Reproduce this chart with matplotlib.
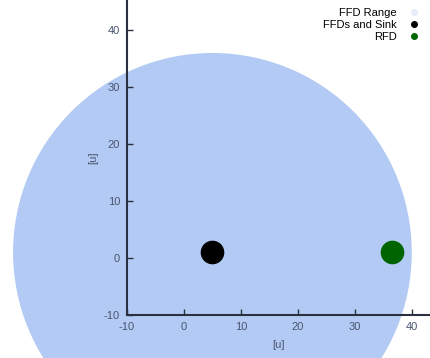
import matplotlib
matplotlib.use("Agg")
import matplotlib.pyplot as plt
from matplotlib.patches import Circle

plt.rcParams['font.family'] = ['Liberation Sans', 'DejaVu Sans']
plt.rcParams['axes.unicode_minus'] = False

# data
range_center = (5, 1)
range_radius = 35
ffd_x = [5]
ffd_y = [1]
rfd_x = [36.5]
rfd_y = [1]
xticks = [-10, 0, 10, 20, 30, 40]
yticks = [-10, 0, 10, 20, 30, 40]

range_color = "#b3cbf4"
tick_color = "#4a5570"

fig = plt.figure(figsize=(4.30, 3.58), dpi=100)
ax = fig.add_axes([0.2953, 0.12, 0.7047, 0.88])

circ = Circle(range_center, range_radius, facecolor=range_color, edgecolor="none",
              clip_on=False, zorder=1)
ax.add_patch(circ)

ax.plot(ffd_x, ffd_y, "o", color="black", markersize=16, zorder=3)
ax.plot(rfd_x, rfd_y, "o", color="#006400", markersize=16, zorder=3)

# legend proxies
ax.plot([], [], "o", color="#e4ebf9", markersize=4, label="FFD Range")
ax.plot([], [], "o", color="black", markersize=4, label="FFDs and Sink")
ax.plot([], [], "o", color="#006400", markersize=4, label="RFD")
leg = ax.legend(loc="upper right", markerfirst=False, frameon=False, fontsize=8,
                handlelength=1.0, handletextpad=1.0, labelspacing=0.2,
                borderaxespad=0.3, bbox_to_anchor=(0.99, 1.0))

ax.set_xlim(-10, 43.2)
ax.set_ylim(-10, 45.3)
ax.set_xticks(xticks)
ax.set_yticks(yticks)
ax.set_xlabel("[u]", fontsize=8, color=tick_color, labelpad=6)
ax.set_ylabel("[u]", fontsize=8, color=tick_color, labelpad=4)
ax.tick_params(direction="in", length=4, labelsize=8, labelcolor=tick_color,
               color="#2a3040", width=1, pad=5)
ax.spines["top"].set_visible(False)
ax.spines["right"].set_visible(False)
for s in ("left", "bottom"):
    ax.spines[s].set_color("#2a3040")
    ax.spines[s].set_linewidth(1.5)
    ax.spines[s].set_zorder(4)
ax.patch.set_alpha(0)

fig.savefig("out.png", dpi=100)
